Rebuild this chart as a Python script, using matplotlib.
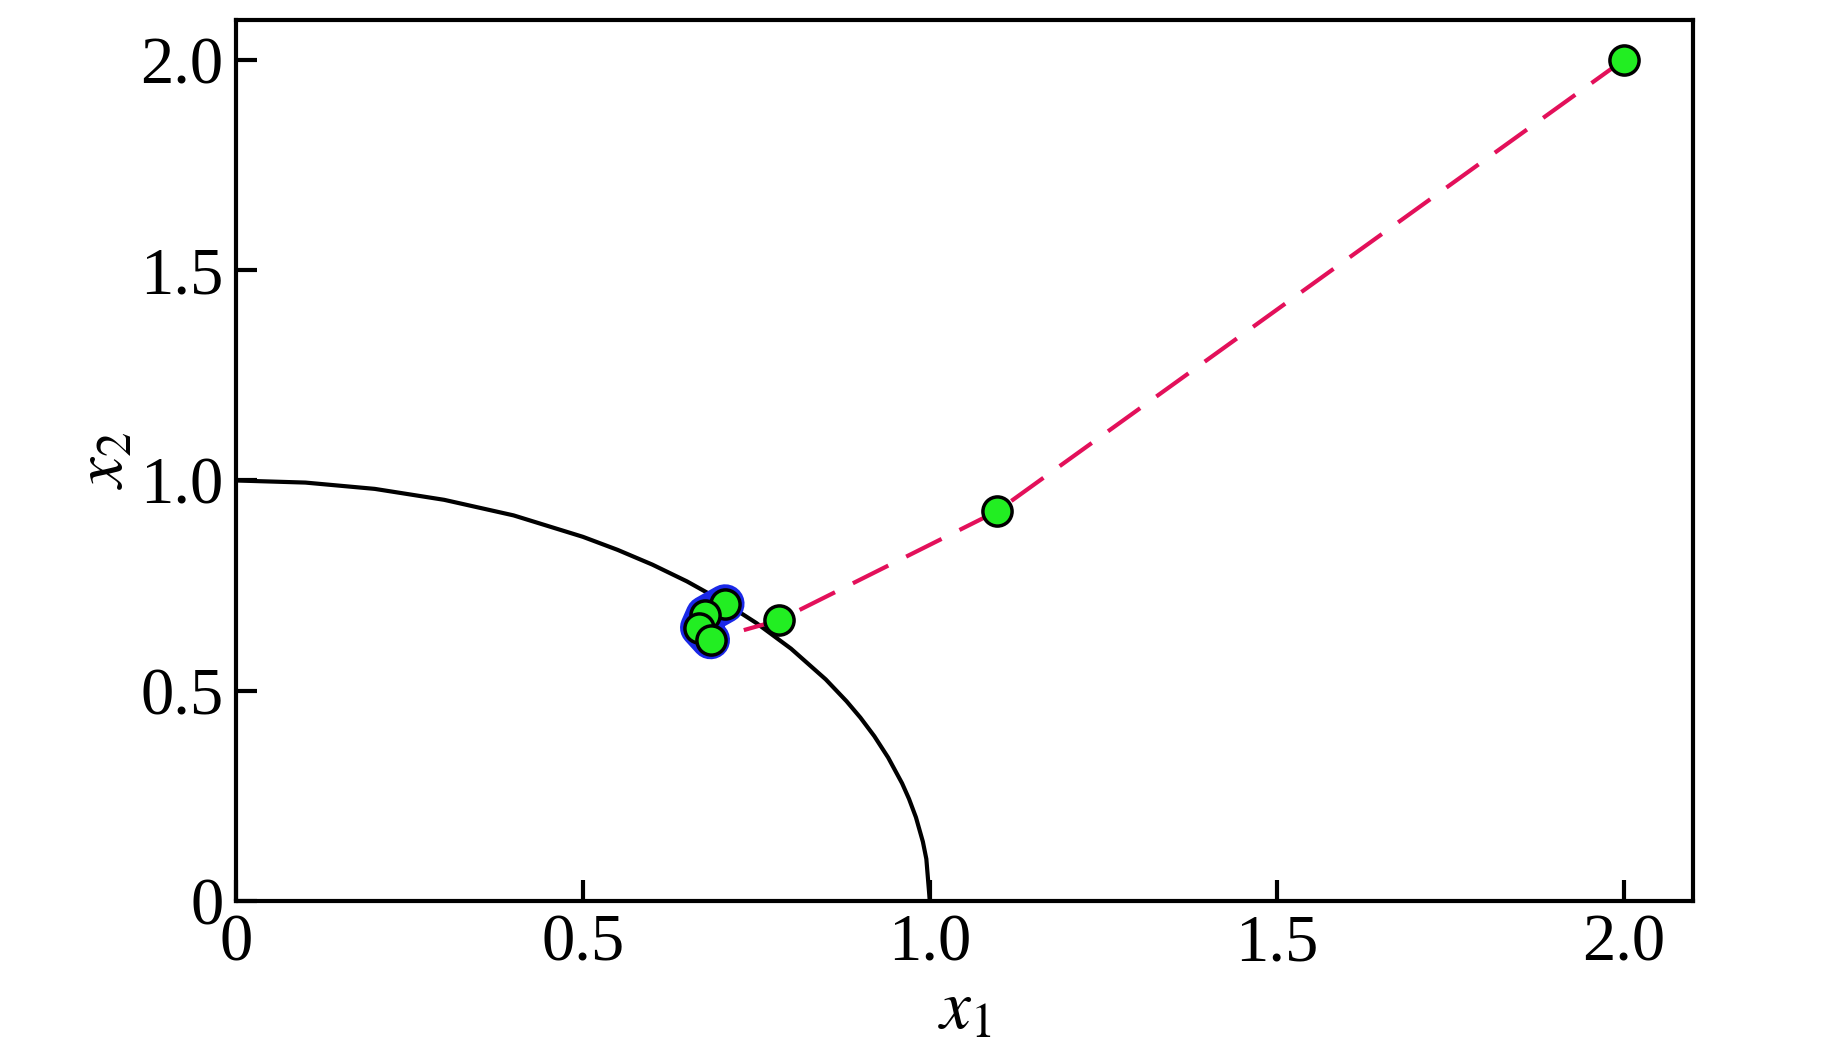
import numpy as np
import matplotlib
matplotlib.use('Agg')
import matplotlib.pyplot as plt

plt.rcParams['font.family'] = ['Liberation Serif', 'DejaVu Serif']
plt.rcParams['mathtext.fontset'] = 'stix'

# constraint boundary
circ_x = [0.0, 0.1, 0.2, 0.3, 0.4, 0.5, 0.55, 0.6, 0.65, 0.7, 0.75, 0.8, 0.85,
          0.88, 0.9, 0.92, 0.94, 0.96, 0.97, 0.98, 0.99, 0.995, 1.0]
circ_y = [1.0, 0.995, 0.98, 0.954, 0.917, 0.866, 0.835, 0.80, 0.760, 0.714, 0.661,
          0.60, 0.527, 0.475, 0.436, 0.392, 0.341, 0.280, 0.243, 0.199, 0.141, 0.100, 0.0]

# trajectory (dashed)
traj_x = [2.0, 1.097, 0.783, 0.723]
traj_y = [2.0, 0.927, 0.668, 0.640]

# iterates near the optimum (blue path)
conv_x = [0.705, 0.676, 0.668, 0.684]
conv_y = [0.707, 0.680, 0.650, 0.621]

# all iterates
pts_x = [2.0, 1.097, 0.783, 0.705, 0.676, 0.668, 0.684]
pts_y = [2.0, 0.927, 0.668, 0.707, 0.680, 0.650, 0.621]

fig = plt.figure(figsize=(18.43, 10.47), dpi=100)
ax = fig.add_axes([236 / 1843, 1 - 901 / 1047, (1693 - 236) / 1843, (901 - 20) / 1047])

ax.plot(circ_x, circ_y, color='black', lw=3, zorder=2)
ax.plot(traj_x, traj_y, color='#e3105a', lw=3, dashes=(9.5, 4.8), zorder=3)
ax.plot(conv_x, conv_y, color='#1a28e8', lw=28, solid_capstyle='round',
        solid_joinstyle='round', zorder=3)
ax.plot(pts_x, pts_y, 'o', ms=21, mfc='#22ee22', mec='black', mew=2.5, ls='none', zorder=4)

ax.set_xlim(0, 2.1)
ax.set_ylim(0, 2.095)
ax.set_xticks([0, 0.5, 1.0, 1.5, 2.0])
ax.set_xticklabels(['0', '0.5', '1.0', '1.5', '2.0'])
ax.set_yticks([0, 0.5, 1.0, 1.5, 2.0])
ax.set_yticklabels(['0', '0.5', '1.0', '1.5', '2.0'])
ax.tick_params(direction='in', length=15, width=3, labelsize=48, pad=9)
for s in ax.spines.values():
    s.set_linewidth(3)

ax.set_xlabel(r'$x_1$', fontsize=50, labelpad=4)
ax.set_ylabel(r'$x_2$', fontsize=50, labelpad=2)

fig.savefig('out.png', dpi=100)
